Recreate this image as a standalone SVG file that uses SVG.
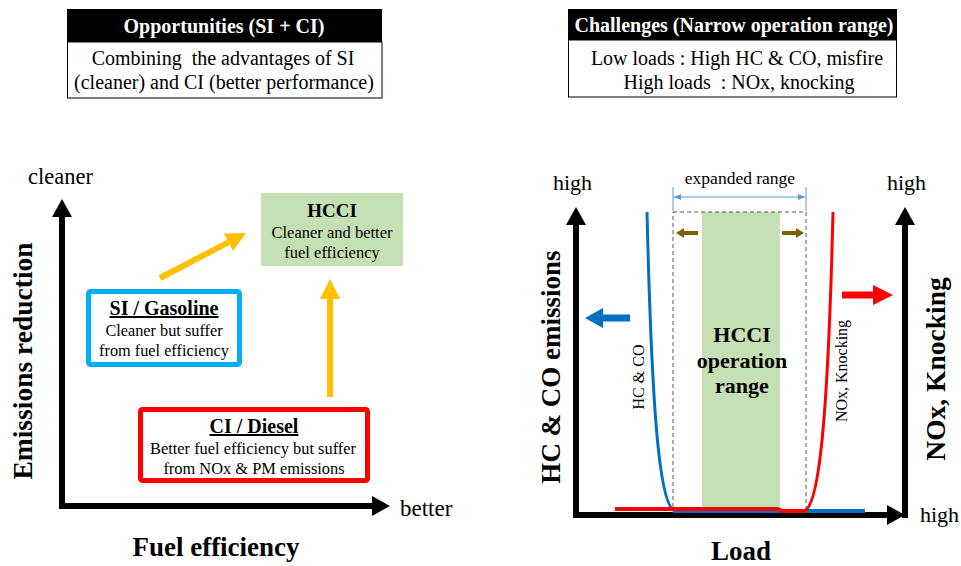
<svg xmlns="http://www.w3.org/2000/svg" width="961" height="566" viewBox="0 0 961 566">
  <style>
    text { font-family: "Liberation Serif", "Times New Roman", serif; fill: #000; }
    .b { font-weight: bold; }
    .hdr { font-weight: bold; fill: #fff; font-size: 20px; text-anchor: middle; }
    .body { font-size: 20px; text-anchor: middle; }
    .mid { text-anchor: middle; }
    .ax { stroke: #000; stroke-width: 6; fill: none; }
    .org { stroke: #FFC000; stroke-width: 6; fill: none; }
    .u { text-decoration: underline; }
  </style>
  <defs>
    <marker id="headBlack" markerUnits="userSpaceOnUse" markerWidth="18" markerHeight="20" refX="0" refY="10" orient="auto" viewBox="0 0 18 20">
      <path d="M0,0 L18,10 L0,20 z" fill="#000"/>
    </marker>
    <marker id="headOrange" markerUnits="userSpaceOnUse" markerWidth="20" markerHeight="20" refX="0" refY="10" orient="auto" viewBox="0 0 20 20">
      <path d="M0,0 L20,10 L0,20 z" fill="#FFC000"/>
    </marker>
    <marker id="headBlue" markerUnits="userSpaceOnUse" markerWidth="18" markerHeight="20" refX="0" refY="10" orient="auto" viewBox="0 0 18 20">
      <path d="M0,0 L18,10 L0,20 z" fill="#0070C0"/>
    </marker>
    <marker id="headRed" markerUnits="userSpaceOnUse" markerWidth="20" markerHeight="20" refX="0" refY="10" orient="auto" viewBox="0 0 20 20">
      <path d="M0,0 L20,10 L0,20 z" fill="#FF0000"/>
    </marker>
    <marker id="headBrown" markerUnits="userSpaceOnUse" markerWidth="8" markerHeight="10" refX="0" refY="5" orient="auto" viewBox="0 0 8 10">
      <path d="M0,0 L8,5 L0,10 z" fill="#7F6000"/>
    </marker>
    <marker id="headRange" markerUnits="userSpaceOnUse" markerWidth="7" markerHeight="6" refX="7" refY="3" orient="auto-start-reverse" viewBox="0 0 7 6">
      <path d="M0,0 L7,3 L0,6 z" fill="#5B9BD5"/>
    </marker>
  </defs>

  <!-- Summary box: opportunities -->
  <g id="opportunities">
    <rect x="67" y="9" width="315" height="33" fill="#000"/>
    <rect x="67.5" y="42" width="314.5" height="56" fill="#fff" stroke="#000" stroke-width="1"/>
    <text class="hdr" x="224" y="32.5">Opportunities (SI + CI)</text>
    <text class="body" x="223" y="65" xml:space="preserve">Combining  the advantages of SI</text>
    <text class="body" x="224" y="89">(cleaner) and CI (better performance)</text>
  </g>

  <!-- Summary box: challenges -->
  <g id="challenges">
    <rect x="568" y="9" width="329" height="31" fill="#000"/>
    <rect x="568.5" y="40" width="328" height="57" fill="#fff" stroke="#000" stroke-width="1"/>
    <text class="hdr" x="734" y="31.5">Challenges (Narrow operation range)</text>
    <text class="body" x="737" y="65">Low loads : High HC &amp; CO, misfire</text>
    <text class="body" x="739" y="89" xml:space="preserve">High loads  : NOx, knocking</text>
  </g>

  <!-- Left chart: axes and labels -->
  <g id="left-axes">
    <path class="ax" d="M62,217 V506 H372" marker-end="url(#headBlack)"/>
    <path class="ax" d="M62,506 V217" marker-end="url(#headBlack)"/>
    <text x="28" y="184" font-size="22.5">cleaner</text>
    <text x="400" y="516" font-size="23">better</text>
    <text class="b mid" x="216" y="556" font-size="27">Fuel efficiency</text>
    <text class="b mid" font-size="27.5" transform="translate(32,361) rotate(-90)">Emissions reduction</text>
  </g>

  <g id="hcci">
    <rect x="261" y="193" width="142" height="73" fill="#C5E0B4"/>
    <text class="b mid" x="332" y="217" font-size="19">HCCI</text>
    <text class="mid" x="332" y="238" font-size="16.5">Cleaner and better</text>
    <text class="mid" x="332" y="258" font-size="16.5">fuel efficiency</text>
  </g>

  <g id="si-gasoline">
    <rect x="88.5" y="291.5" width="151" height="73" rx="2" fill="#fff" stroke="#00B0F0" stroke-width="5"/>
    <text class="b mid u" x="164" y="315" font-size="20">SI / Gasoline</text>
    <text class="mid" x="164" y="336" font-size="16.3">Cleaner but suffer</text>
    <text class="mid" x="164" y="356" font-size="16.3">from fuel efficiency</text>
  </g>

  <g id="ci-diesel">
    <rect x="140.5" y="409.5" width="227" height="71" rx="2" fill="#fff" stroke="#FF0000" stroke-width="5"/>
    <text class="b mid u" x="254" y="433" font-size="20">CI / Diesel</text>
    <text class="mid" x="253" y="454" font-size="16.4">Better fuel efficiency but suffer</text>
    <text class="mid" x="254" y="474" font-size="16.4">from NOx &amp; PM emissions</text>
  </g>

  <g id="connectors">
    <path class="org" d="M160,278 L228.3,242.3" marker-end="url(#headOrange)"/>
    <path class="org" d="M330,397 V299" marker-end="url(#headOrange)"/>
  </g>

  <!-- Right chart: operating range vs load -->
  <g id="right-axes">
    <path class="ax" d="M576,225 V515 H887" marker-end="url(#headBlack)"/>
    <path class="ax" d="M576,515 V225" marker-end="url(#headBlack)"/>
    <path class="ax" d="M905,518 V225" marker-end="url(#headBlack)"/>
    <text x="553" y="190" font-size="22">high</text>
    <text x="887" y="190" font-size="22">high</text>
    <text x="920" y="522" font-size="22">high</text>
    <text class="b mid" x="741" y="560" font-size="27">Load</text>
    <text class="b mid" font-size="27" transform="translate(560,367) rotate(-90)">HC &amp; CO emissions</text>
    <text class="b mid" font-size="27.5" transform="translate(945,369) rotate(-90)">NOx, Knocking</text>
  </g>

  <g id="operation-range">
    <rect x="702" y="212" width="78" height="298" fill="#C5E0B4"/>
    <rect x="673" y="212" width="133" height="298" fill="none" stroke="#595959" stroke-width="1" stroke-dasharray="4,3"/>
    <text class="b mid" x="742" y="342" font-size="22">HCCI</text>
    <text class="b mid" x="742" y="368" font-size="22">operation</text>
    <text class="b mid" x="742" y="393" font-size="22">range</text>
  </g>

  <g id="expanded-range">
    <path d="M673,187 V211 M806,187 V211" stroke="#5B9BD5" stroke-width="1"/>
    <path d="M674,197 H805" stroke="#5B9BD5" stroke-width="1" marker-start="url(#headRange)" marker-end="url(#headRange)"/>
    <text class="mid" x="740" y="184" font-size="17.5">expanded range</text>
    <path d="M698,233 H684" stroke="#7F6000" stroke-width="4" marker-end="url(#headBrown)"/>
    <path d="M782,233 H796" stroke="#7F6000" stroke-width="4" marker-end="url(#headBrown)"/>
  </g>

  <g id="hc-co-curve">
    <path d="M673,511 H865" stroke="#0070C0" stroke-width="4" fill="none"/>
    <path d="M647,212 C652,420 660,507 675,511" stroke="#0070C0" stroke-width="3" fill="none"/>
    <path d="M630,318 H603" stroke="#0070C0" stroke-width="7" marker-end="url(#headBlue)"/>
    <text class="mid" font-size="16" transform="translate(644,377) rotate(-90)">HC &amp; CO</text>
  </g>

  <g id="nox-curve">
    <path d="M615,509 H778 L782,511 H806" stroke="#FF0000" stroke-width="4" fill="none"/>
    <path d="M804,511 C819,507 828,420 833,212" stroke="#FF0000" stroke-width="3" fill="none"/>
    <path d="M842,295 H873" stroke="#FF0000" stroke-width="7" marker-end="url(#headRed)"/>
    <text class="mid" font-size="16" transform="translate(847,371) rotate(-90)">NOx, Knocking</text>
  </g>
</svg>
